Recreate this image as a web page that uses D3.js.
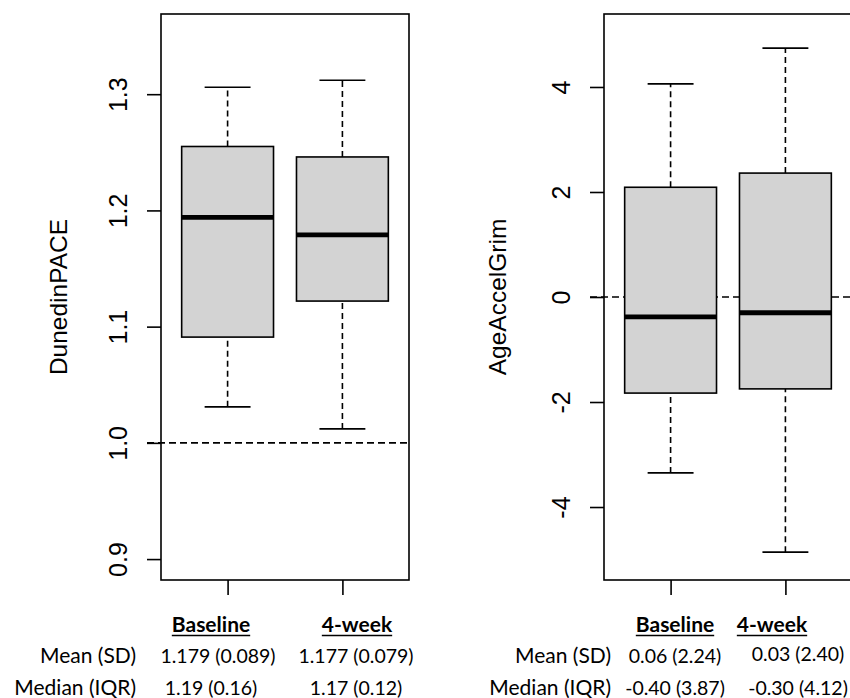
<!DOCTYPE html>
<html>
<head>
<meta charset="utf-8">
<script src="https://cdn.jsdelivr.net/npm/d3@7"></script>
<style>
  body { margin: 0; background: #fff; }
  svg { display: block; }
</style>
</head>
<body>
<div id="chart"></div>
<script>
// groups and box stats: [lower whisker, Q1, median, Q3, upper whisker]
const groups = ["Baseline", "4-week"];
const dunedinBoxes = [
    [1.031, 1.091, 1.194, 1.255, 1.306],
    [1.012, 1.122, 1.179, 1.246, 1.312]
];
const grimBoxes = [
    [-3.35, -1.83, -0.38, 2.09, 4.06],
    [-4.86, -1.75, -0.30, 2.36, 4.74]
];
const dunedinTicks = [0.9, 1.0, 1.1, 1.2, 1.3];
const grimTicks = [-4, -2, 0, 2, 4];
const dunedinRef = 1.0;
const grimRef = 0;

// summary table under each panel
const rowLabels = ["Mean (SD)", "Median (IQR)"];
const dunedinSummary = [
    ["1.179 (0.089)", "1.177 (0.079)"],
    ["1.19 (0.16)", "1.17 (0.12)"]
];
const grimSummary = [
    ["0.06 (2.24)", "0.03 (2.40)"],
    ["-0.40 (3.87)", "-0.30 (4.12)"]
];

const W = 850, H = 698;
const svg = d3.select("#chart").append("svg")
    .attr("width", W).attr("height", H);

const axisFont = "'Liberation Sans', Arial, sans-serif";
const tableFont = "Lato, 'Open Sans', sans-serif";
const lw = 1.6;

function drawPanel(opt) {
    const top = 14, bottom = 580;
    const x = d3.scaleLinear().domain([0.42, 2.58]).range([opt.left, opt.left + 248]);
    const y = d3.scaleLinear().domain(opt.domain).range([bottom, top]);
    const g = svg.append("g");

    // reference line
    g.append("line")
        .attr("x1", opt.left - 14).attr("x2", x.range()[1])
        .attr("y1", y(opt.ref)).attr("y2", y(opt.ref))
        .attr("stroke", "#000").attr("stroke-width", lw)
        .attr("stroke-dasharray", "7,4");

    opt.boxes.forEach((b, i) => {
        const cx = x(i + 1);
        const bw = x(1.4) - x(1);   // half box width
        const cw = x(1.2) - x(1);   // half cap width
        // whiskers
        [[b[0], b[1]], [b[3], b[4]]].forEach(([a, c]) => {
            g.append("line")
                .attr("x1", cx).attr("x2", cx)
                .attr("y1", y(a)).attr("y2", y(c))
                .attr("stroke", "#000").attr("stroke-width", lw)
                .attr("stroke-dasharray", "6,4");
        });
        [b[0], b[4]].forEach(v => {
            g.append("line")
                .attr("x1", cx - cw).attr("x2", cx + cw)
                .attr("y1", y(v)).attr("y2", y(v))
                .attr("stroke", "#000").attr("stroke-width", lw);
        });
        // box
        g.append("rect")
            .attr("x", cx - bw).attr("width", 2 * bw)
            .attr("y", y(b[3])).attr("height", y(b[1]) - y(b[3]))
            .attr("fill", "#d3d3d3").attr("stroke", "#000").attr("stroke-width", lw);
        // median
        g.append("line")
            .attr("x1", cx - bw).attr("x2", cx + bw)
            .attr("y1", y(b[2])).attr("y2", y(b[2]))
            .attr("stroke", "#000").attr("stroke-width", 4.8);
    });

    // frame
    g.append("rect")
        .attr("x", opt.left).attr("y", top)
        .attr("width", 248).attr("height", bottom - top)
        .attr("fill", "none").attr("stroke", "#000").attr("stroke-width", lw);

    // y axis
    const yAxis = g.append("g")
        .attr("transform", `translate(${opt.left},0)`)
        .call(d3.axisLeft(y).tickValues(opt.ticks).tickSize(14).tickPadding(0)
            .tickFormat(d => opt.fmt(d)));
    yAxis.select(".domain").remove();
    yAxis.selectAll(".tick line").attr("stroke-width", lw);
    yAxis.selectAll(".tick text")
        .attr("x", null).attr("dy", null)
        .attr("transform", "translate(-34,0) rotate(-90)")
        .attr("text-anchor", "middle")
        .attr("font-family", axisFont).attr("font-size", 25).attr("fill", "#000");

    // x ticks (no labels)
    const xAxis = g.append("g")
        .attr("transform", `translate(0,${bottom})`)
        .call(d3.axisBottom(x).tickValues([1, 2]).tickSize(15).tickFormat(""));
    xAxis.select(".domain").remove();
    xAxis.selectAll(".tick line").attr("stroke-width", lw);

    // y label
    g.append("text")
        .attr("transform", `translate(${opt.labelX},${(top + bottom) / 2}) rotate(-90)`)
        .attr("text-anchor", "middle")
        .attr("font-family", axisFont).attr("font-size", 24.5)
        .text(opt.label);

    // summary table
    groups.forEach((name, i) => {
        const t = g.append("text")
            .attr("x", opt.headX[i]).attr("y", 632)
            .attr("text-anchor", "middle")
            .attr("font-family", tableFont).attr("font-size", 21).attr("font-weight", "bold")
            .text(name);
        const w = t.node().getComputedTextLength();
        g.append("line")
            .attr("x1", opt.headX[i] - w / 2).attr("x2", opt.headX[i] + w / 2)
            .attr("y1", 635.5).attr("y2", 635.5)
            .attr("stroke", "#000").attr("stroke-width", 1.6);
    });
    rowLabels.forEach((lab, r) => {
        const ry = [663, 695][r];
        g.append("text")
            .attr("x", opt.rowLabelX).attr("y", ry)
            .attr("text-anchor", "end")
            .attr("font-family", tableFont).attr("font-size", 21)
            .text(lab);
        opt.summary[r].forEach((s, i) => {
            g.append("text")
                .attr("x", opt.valX[r][i]).attr("y", ry + opt.valDy[r][i])
                .attr("text-anchor", "middle")
                .attr("font-family", tableFont).attr("font-size", 19.5)
                .text(s);
        });
    });
}

drawPanel({
    left: 161, domain: [0.882, 1.369], ticks: dunedinTicks, ref: dunedinRef,
    boxes: dunedinBoxes, fmt: d => d.toFixed(1), label: "DunedinPACE", labelX: 67,
    summary: dunedinSummary, headX: [211, 357], rowLabelX: 136,
    valX: [[218, 356], [211, 356]], valDy: [[0, 0], [0, 0]]
});

drawPanel({
    left: 604, domain: [-5.39, 5.39], ticks: grimTicks, ref: grimRef,
    boxes: grimBoxes, fmt: d => String(d), label: "AgeAccelGrim", labelX: 506,
    summary: grimSummary, headX: [675, 772], rowLabelX: 611,
    valX: [[675, 798], [675, 798]], valDy: [[0, -2], [0, 0]]
});
</script>
</body>
</html>
